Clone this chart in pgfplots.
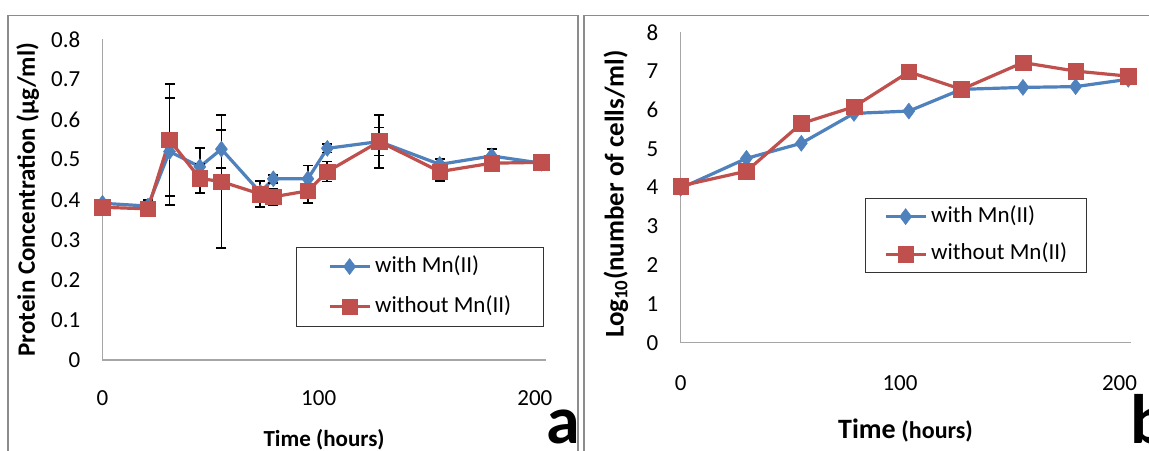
\documentclass[border=0pt]{standalone}
\usepackage{fontspec}
\setmainfont{Carlito}
\usepackage{pgfplots}
\pgfplotsset{compat=1.18}
\definecolor{exblue}{HTML}{4F81BD}
\definecolor{exred}{HTML}{C0504D}
\pgfplotsset{
  myaxis/.style={
    scale only axis,
    axis lines=left,
    axis line style={-, draw=black!35, line width=1.2pt},
    major tick length=0pt,
    tick label style={font=\fontsize{23}{26}\selectfont, black},
    /pgf/number format/assume math mode=true,
    xmin=0, xmax=205, xtick={0,100,200}, ymin=0,
    xticklabel style={inner sep=0pt, anchor=center},
    yticklabel style={inner sep=0pt, anchor=east, xshift=-22pt},
    label style={font=\bfseries\fontsize{25}{28}\selectfont},
    legend cell align=left,
    legend style={draw=black!80, line width=0.8pt, font=\fontsize{23}{26}\selectfont,
      nodes={inner sep=0pt, text height=16pt, text depth=5pt}, column sep=4pt},
    legend image code/.code={\draw[mark repeat=2,mark phase=2,##1] plot coordinates {(0pt,0pt) (20pt,0pt) (40pt,0pt)};},
    clip=false,
  },
  blueser/.style={color=exblue, line width=3.2pt, mark=diamond*, mark size=8pt, mark options={solid, line width=0.5pt}},
  redser/.style={color=exred, line width=3.2pt, mark=square*, mark size=7.8pt, mark options={solid, line width=0.5pt}},
  ebar/.style={error bars/.cd, y dir=both, y explicit,
    error bar style={black, line width=1.7pt, solid},
    error mark options={black, line width=1.7pt, mark size=5pt, rotate=90}},
}
\pgfplotstableread{
t v e
0 0.391 0.008
21 0.384 0.015
31 0.520 0.133
45 0.482 0.046
55 0.526 0.047
73 0.418 0.01
79 0.452 0.01
95 0.452 0.033
104 0.528 0.01
128 0.545 0.035
156 0.488 0.013
180 0.509 0.018
203 0.491 0.01
}\proteinwith
\pgfplotstableread{
t v e
0 0.381 0.005
21 0.377 0.01
31 0.549 0.14
45 0.453 0.036
55 0.445 0.166
73 0.414 0.032
79 0.407 0.02
95 0.422 0.03
104 0.470 0.025
128 0.545 0.066
156 0.470 0.023
180 0.491 0.01
203 0.493 0.01
}\proteinwithout
\pgfplotstableread{
t v
0 3.98
30 4.75
55 5.14
79 5.91
104 5.97
128 6.53
156 6.58
180 6.60
204 6.79
}\cellswith
\pgfplotstableread{
t v
0 4.04
30 4.42
55 5.65
79 6.08
104 6.98
128 6.53
156 7.22
180 7.00
204 6.87
}\cellswithout
\begin{document}
\begin{tikzpicture}[x=1pt,y=1pt]
\useasboundingbox (0,0) rectangle (1149,450);
\clip (0,0) rectangle (1149,450);
\fill[white] (0,0) rectangle (1149,450);
\draw[black!45, line width=1.5pt] (8.1,-10) -- (8.1,434.3) -- (578,434.3) -- (578,-10);
\draw[black!45, line width=1.5pt] (584,-10) -- (584,434.3) -- (1160,434.3);
% Panel a
\begin{axis}[myaxis,
  at={(102.5pt,90pt)}, anchor=south west,
  width=443.2pt, height=320.7pt,
  ymax=0.8, ytick={0,0.1,...,0.8},
  yticklabel style={/pgf/number format/.cd, fixed, precision=1},
  xticklabel style={yshift=-38pt},
  ylabel={Protein Concentration (µg/ml)},
  ylabel style={at={(axis description cs:-0.1685,0.5)}, anchor=center},
  xlabel={\fontsize{23}{26}\selectfont Time (hours)},
  xlabel style={at={(axis description cs:0.5,-0.2494)}, anchor=center},
  legend style={at={(axis description cs:0.4357,0.3533)}, anchor=north west,
    inner xsep=32pt, inner ysep=9pt, row sep=19pt},
]
\addplot[blueser, ebar] table[x=t, y=v, y error=e] {\proteinwith};
\addlegendentry{with Mn(II)}
\addplot[redser, ebar] table[x=t, y=v, y error=e] {\proteinwithout};
\addlegendentry{without Mn(II)}
\end{axis}
% Panel b
\begin{axis}[myaxis,
  at={(680.6pt,107.3pt)}, anchor=south west,
  width=449.9pt, height=310.4pt,
  ymax=8, ytick={0,1,...,8},
  xticklabel style={yshift=-40pt},
  ylabel={\fontsize{27}{30}\selectfont Log\textsubscript{10}(number of cells/ml)},
  ylabel style={at={(axis description cs:-0.144,0.479)}, anchor=center},
  xlabel={{\fontsize{28}{31}\selectfont Time} {\fontsize{24}{27}\selectfont(hours)}},
  xlabel style={at={(axis description cs:0.5,-0.2813)}, anchor=center},
  legend style={at={(axis description cs:0.409,0.4671)}, anchor=north west,
    inner xsep=19pt, inner ysep=8pt, row sep=16.6pt},
]
\addplot[blueser] table[x=t, y=v] {\cellswith};
\addlegendentry{with Mn(II)}
\addplot[redser] table[x=t, y=v] {\cellswithout};
\addlegendentry{without Mn(II)}
\end{axis}
\node[anchor=base west, inner sep=0pt, font=\bfseries\fontsize{68}{70}\selectfont] at (546,7) {a};
\node[anchor=base west, inner sep=0pt, font=\bfseries\fontsize{70}{72}\selectfont] at (1130,7) {b};
\end{tikzpicture}
\end{document}
